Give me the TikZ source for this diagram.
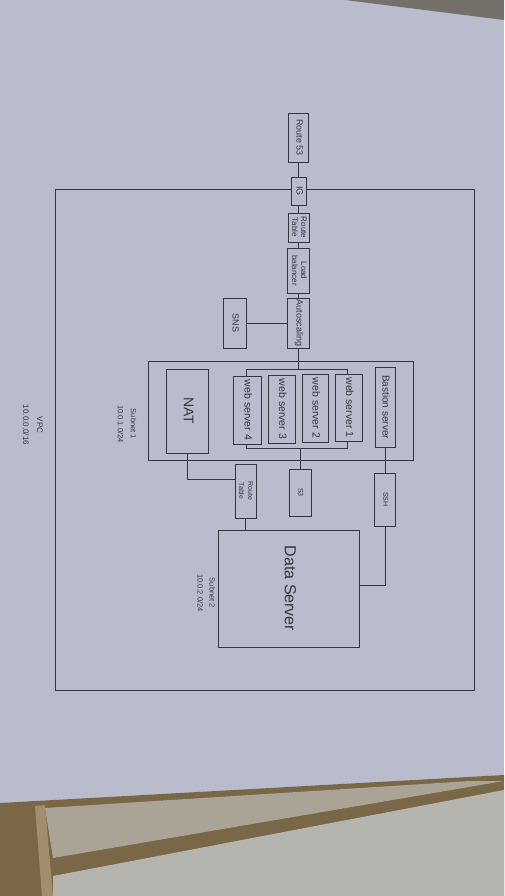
\documentclass[tikz,border=0pt]{standalone}
\usepackage{fontspec}
\setmainfont{Liberation Sans}
\usepackage{graphicx}
\usepackage{tikz}
\usetikzlibrary{positioning}

\definecolor{paper}{HTML}{B9BCCD}
\definecolor{ink}{HTML}{35353F}
\definecolor{floor}{HTML}{7A6747}
\definecolor{panel}{HTML}{A9A495}
\definecolor{tiles}{HTML}{B6B4AE}
\definecolor{post}{HTML}{A08E6C}
\definecolor{shadow}{HTML}{75706A}

% rotated (top to bottom) text, several lines
\newcommand{\vtext}[1]{\rotatebox{-90}{\begin{tabular}{@{}c@{}}#1\end{tabular}}}

\tikzset{
  box/.style={draw=ink, fill=paper, line width=0.9pt, inner sep=0pt, text=ink},
  frame/.style={draw=ink, line width=0.9pt, inner sep=0pt},
  wire/.style={draw=ink, line width=0.9pt},
  note/.style={text=ink, inner sep=0pt},
}

\begin{document}
\begin{tikzpicture}[x=1pt,y=-1pt]
  \useasboundingbox (0,0) rectangle (504,896);

  % the sheet and what lies under it
  \fill[paper] (0,0) rectangle (504,896);
  \fill[shadow] (345,0) -- (504,0) -- (504,20) -- cycle;
  \fill[floor] (0,803) -- (504,775) -- (504,896) -- (0,896) -- cycle;
  \fill[panel] (45,808) -- (470,781) -- (504,781) -- (53,858) -- cycle;
  \fill[tiles] (53,876) -- (504,790) -- (504,896) -- (53,896) -- cycle;
  \fill[post] (35,806) -- (45,805) -- (53,896) -- (42,896) -- cycle;

  % vpc and subnets
  \node[frame, minimum width=419pt, minimum height=501pt] (vpc) at (264.5,439.5) {};
  \node[frame, minimum width=265pt, minimum height=99pt] (sub1) at (280.5,410.5) {};
  \node[frame, minimum width=101pt, minimum height=79pt] (grp) at (296.5,408.5) {};

  % path in from outside
  \node[box, minimum width=20pt, minimum height=49pt, font=\fontsize{9}{10}\selectfont] (r53) at (298.5,137.5) {\vtext{Route 53}};
  \node[box, minimum width=15pt, minimum height=28pt, font=\fontsize{9}{10}\selectfont] (ig) at (298.5,191) {\vtext{IG}};
  \node[box, minimum width=21pt, minimum height=29pt, font=\fontsize{8}{9}\selectfont] (rt) at (298.5,227.5) {\vtext{Route\\Table}};
  \node[box, minimum width=22pt, minimum height=45pt, font=\fontsize{8}{9}\selectfont] (lb) at (298.5,270.5) {\vtext{Load\\balancer}};
  \node[box, minimum width=22pt, minimum height=50pt, font=\fontsize{9}{10}\selectfont] (asg) at (298.5,323) {\vtext{Autoscaling}};
  \node[box, minimum width=23pt, minimum height=50pt, font=\fontsize{9}{10}\selectfont] (sns) at (234.5,323) {\vtext{SNS}};

  % subnet 1
  \node[box, minimum width=28pt, minimum height=68pt, font=\fontsize{10.5}{12}\selectfont] (ws4) at (247,410) {\vtext{web server 4}};
  \node[box, minimum width=27pt, minimum height=68pt, font=\fontsize{10.5}{12}\selectfont] (ws3) at (281.5,409) {\vtext{web server 3}};
  \node[box, minimum width=26pt, minimum height=68pt, font=\fontsize{10.5}{12}\selectfont] (ws2) at (315,408) {\vtext{web server 2}};
  \node[box, minimum width=27pt, minimum height=67pt, font=\fontsize{10.5}{12}\selectfont] (ws1) at (348.5,407.5) {\vtext{web server 1}};
  \node[box, minimum width=20pt, minimum height=80pt, font=\fontsize{10}{12}\selectfont] (bas) at (385,407) {\vtext{Bastion server}};
  \node[box, minimum width=42pt, minimum height=84pt, font=\fontsize{14}{16}\selectfont] (nat) at (187,411) {\vtext{NAT}};

  % below subnet 1
  \node[box, minimum width=21pt, minimum height=54pt, font=\fontsize{7}{9}\selectfont] (rt2) at (245.5,491) {\vtext{Route\\Table}};
  \node[box, minimum width=22pt, minimum height=47pt, font=\fontsize{7}{8}\selectfont] (s3) at (300,492.5) {\vtext{S3}};
  \node[box, minimum width=21pt, minimum height=53pt, font=\fontsize{7}{8}\selectfont] (ssh) at (385,499.5) {\vtext{SSH}};
  \node[box, minimum width=141pt, minimum height=117pt, font=\fontsize{16}{18}\selectfont] (ds) at (288.5,588.5) {\vtext{Data Server}};

  % labels
  \node[note, font=\fontsize{8}{14}\selectfont] (vpclbl) at (33,425) {\vtext{VPC\\10.0.0.0/16}};
  \node[note, font=\fontsize{7.5}{13}\selectfont] (sub1lbl) at (127,424) {\vtext{Subnet 1\\10.0.1.0/24}};
  \node[note, font=\fontsize{7.5}{12}\selectfont] (sub2lbl) at (206,593) {\vtext{Subnet 2\\10.0.2.0/24}};

  % links
  \draw[wire] (r53) -- (ig) -- (rt) -- (lb) -- (asg);
  \draw[wire] (sns) -- (asg);
  \draw[wire] (asg.south) -- (asg.south |- grp.north);
  \draw[wire] (s3.north) -- (s3.north |- grp.south);
  \draw[wire] (bas) -- (ssh);
  \draw[wire] (ssh.south) |- ([yshift=3pt]ds.east);
  \draw[wire] (nat.south) |- ([yshift=12pt]rt2.west);
  \draw[wire] (rt2.south) -- (rt2.south |- ds.north);
\end{tikzpicture}
\end{document}
